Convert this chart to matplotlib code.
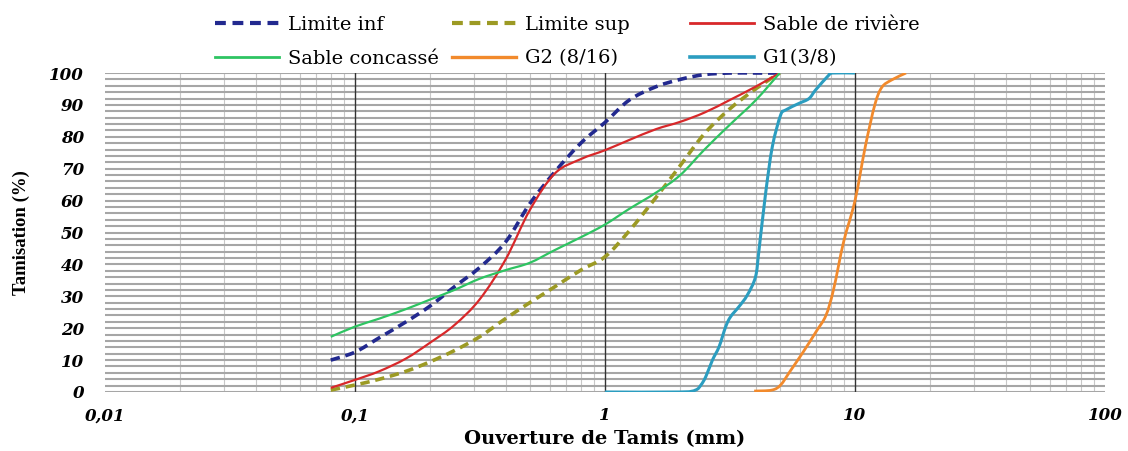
import numpy as np
import matplotlib
matplotlib.use("Agg")
import matplotlib.pyplot as plt
from matplotlib.path import Path
from matplotlib.patches import PathPatch
from matplotlib.lines import Line2D
from matplotlib.ticker import FixedLocator, NullFormatter

# ---------------- data ----------------
sieve_sable = [0.08, 0.1, 0.125, 0.16, 0.2, 0.25, 0.315, 0.4, 0.5, 0.63, 0.8,
               1, 1.25, 1.6, 2, 2.5, 3.15, 4, 5]
limite_inf = [10, 12.5, 17, 22, 27, 33, 39, 47, 59, 69, 78,
              84.5, 91.5, 95.7, 98, 99.5, 100, 100, 100]
limite_sup = [0.6, 2.2, 4, 6.5, 9.5, 13, 17.3, 23, 28, 33, 38.2,
              42.4, 50.5, 61, 71, 81, 88.7, 95, 100]
sable_riviere = [1.3, 3.8, 6.5, 10.5, 15.5, 21, 29, 41.5, 57, 68.5, 73,
                 75.8, 79, 82.4, 84.7, 87.6, 91.5, 95.7, 100]
sable_concasse = [17.3, 20.5, 23, 26, 29, 32, 35.5, 38.2, 40.5, 44.5, 48.5,
                  52.5, 57.4, 62.5, 68, 76, 83.7, 91.4, 100]

g2_x = [3.95, 4.65, 5.04, 5.5, 6.2, 7.0, 7.65, 8.2, 9.0, 10, 11.0, 12.0,
        12.8, 14.0, 16]
g2_y = [0.3, 0.6, 2.2, 6.5, 12.5, 19, 24, 32, 47, 60, 77, 90,
        95.5, 97.8, 100]

g1_x = [1, 2, 2.3, 2.42, 2.53, 2.69, 2.86, 3.04, 3.18, 3.43, 3.71, 4.0,
        4.13, 4.39, 4.67, 5.04, 5.28, 5.98, 6.55, 6.96, 7.87, 8.1, 10]
g1_y = [0, 0, 0.6, 2.2, 4.8, 10, 14.2, 20.5, 23.6, 26.7, 30.4, 36.1,
        44.5, 62.3, 76.9, 86.8, 88.4, 90.5, 92, 94.7, 99.4, 100, 100]

x_ticks = [0.01, 0.1, 1, 10, 100]
x_tick_labels = ["0,01", "0,1", "1", "10", "100"]
y_ticks = list(range(0, 101, 10))
series_labels = ["Limite inf", "Limite sup", "Sable de rivière",
                 "Sable concassé", "G2 (8/16)", "G1(3/8)"]

# ---------------- styles ----------------
C_INF = "#22298f"
C_SUP = "#9c9a24"
C_RIV = "#d8282a"
C_CON = "#2ec462"
C_G2 = "#f28a2c"
C_G1 = "#2b9dc0"

SERIF = "DejaVu Serif"


def smooth_path(xs, ys):
    """Excel-like smoothed line: Catmull-Rom Bezier in (log10 x, y) space."""
    P = np.column_stack([np.log10(np.asarray(xs, float)), np.asarray(ys, float)])
    n = len(P)
    verts = [P[0]]
    codes = [Path.MOVETO]
    for i in range(n - 1):
        p0 = P[i - 1] if i > 0 else P[i]
        p1 = P[i]
        p2 = P[i + 1]
        p3 = P[i + 2] if i + 2 < n else P[i + 1]
        c1 = p1 + (p2 - p0) / 6.0
        c2 = p2 - (p3 - p1) / 6.0
        verts += [c1, c2, p2]
        codes += [Path.CURVE4] * 3
    verts = np.array(verts)
    verts[:, 0] = 10 ** verts[:, 0]
    return Path(verts, codes)


fig = plt.figure(figsize=(11.28, 4.51), dpi=100)
W, H = 1128, 451
ax = fig.add_axes([105 / W, 1 - 392 / H, 1000 / W, 319 / H])
ax.set_xscale("log")
ax.set_xlim(0.01, 100)
ax.set_ylim(0, 100)

# grid
ax.yaxis.set_major_locator(FixedLocator(y_ticks))
ax.yaxis.set_minor_locator(FixedLocator(np.arange(0, 101, 2)))
ax.xaxis.set_major_locator(FixedLocator(x_ticks))
minor_x = [m * d for d in [0.01, 0.1, 1, 10] for m in range(2, 10)]
ax.xaxis.set_minor_locator(FixedLocator(minor_x))
ax.xaxis.set_minor_formatter(NullFormatter())
ax.grid(True, axis="y", which="both", color="#a6a6a6", lw=1.5, zorder=0)
ax.grid(True, axis="x", which="minor", color="#c8c8c8", lw=0.8, zorder=0)
for xv in x_ticks[1:-1]:
    ax.axvline(xv, color="#333333", lw=1.0, zorder=1)
ax.set_axisbelow(True)

for s in ax.spines.values():
    s.set_visible(False)
ax.tick_params(which="both", length=0)
ax.tick_params(axis="y", pad=15)
ax.tick_params(axis="x", pad=11)

ax.set_xticks(x_ticks)
ax.set_xticklabels(x_tick_labels)
ax.set_yticks(y_ticks)
ax.set_yticklabels([str(v) for v in y_ticks])
for lab in ax.get_xticklabels() + ax.get_yticklabels():
    lab.set_fontfamily(SERIF)
    lab.set_fontweight("bold")
    lab.set_fontstyle("italic")
    lab.set_fontsize(12)

ax.set_xlabel("Ouverture de Tamis (mm)", fontfamily=SERIF, fontweight="bold",
              fontsize=14, labelpad=4)
ax.set_ylabel("Tamisation (%)", fontfamily="Liberation Serif", fontweight="bold",
              fontsize=13.5, labelpad=14)

# curves
series = [
    (sieve_sable, limite_inf, dict(color=C_INF, lw=2.6, ls=(0, (2.6, 1.6)))),
    (sieve_sable, limite_sup, dict(color=C_SUP, lw=2.6, ls=(0, (2.6, 1.6)))),
    (sieve_sable, sable_riviere, dict(color=C_RIV, lw=1.6, ls="-")),
    (sieve_sable, sable_concasse, dict(color=C_CON, lw=1.6, ls="-")),
    (g2_x, g2_y, dict(color=C_G2, lw=2.0, ls="-")),
    (g1_x, g1_y, dict(color=C_G1, lw=2.2, ls="-")),
]
handles = []
for (xs, ys, st), lab in zip(series, series_labels):
    patch = PathPatch(smooth_path(xs, ys), fill=False, edgecolor=st["color"],
                      lw=st["lw"], linestyle=st["ls"], zorder=3,
                      capstyle="butt", joinstyle="round")
    ax.add_patch(patch)
    handles.append(Line2D([], [], color=st["color"], lw=st["lw"] + 0.4,
                          linestyle=st["ls"]))
ax.set_xlim(0.01, 100)
ax.set_ylim(0, 100)

# legends: three columns positioned like the reference
cols = [(0, 3, 215), (1, 4, 452), (2, 5, 690)]
for a, b, xpix in cols:
    leg = fig.legend([handles[a], handles[b]], [series_labels[a], series_labels[b]],
                     loc="upper left", bbox_to_anchor=(xpix / W, 1 - 16 / H),
                     frameon=False, borderpad=0, borderaxespad=0,
                     handlelength=3.3, handletextpad=0.45, labelspacing=0.8,
                     prop={"family": SERIF, "size": 14})

fig.savefig("out.png", dpi=100)
